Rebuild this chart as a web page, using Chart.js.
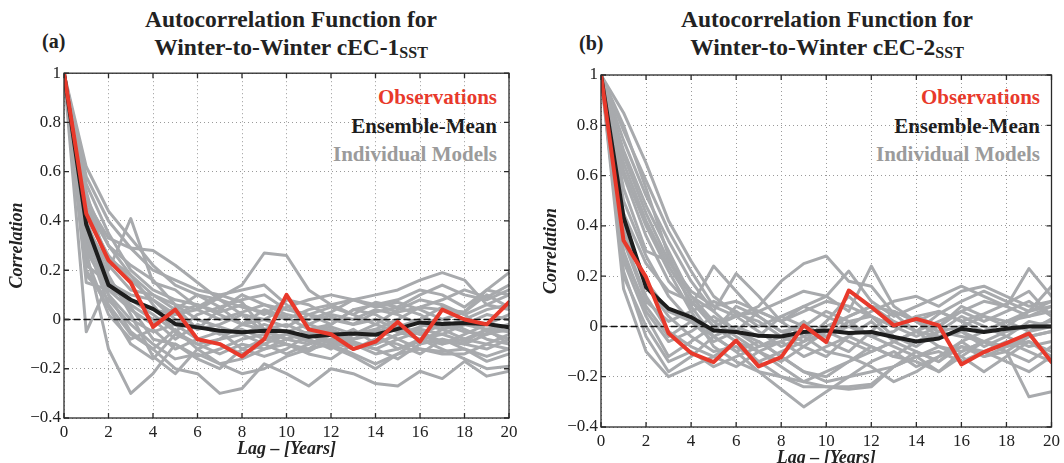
<!DOCTYPE html>
<html>
<head>
<meta charset="utf-8">
<script src="https://cdn.jsdelivr.net/npm/chart.js@4.4.1/dist/chart.umd.min.js"></script>
<style>
html, body { margin: 0; padding: 0; background: #fff; }
body { width: 1064px; height: 463px; overflow: hidden; position: relative; font-family: "Liberation Serif", "Times New Roman", serif; color: #222; }
canvas { position: absolute; }
.title { position: absolute; top: 5px; width: 420px; font-weight: bold; font-size: 23.5px; line-height: 28px; text-align: center; }
.title sub { font-size: 16px; vertical-align: baseline; position: relative; top: 3px; }
.tag { position: absolute; font-weight: bold; font-size: 20px; line-height: 24px; }
.legend { position: absolute; top: 83px; width: 260px; text-align: right; font-weight: bold; font-size: 21px; line-height: 28.5px; }
</style>
</head>
<body>

<div class="tag" style="left:42px; top:29px;">(a)</div>
<div class="title" style="left:81px;">Autocorrelation Function for<br>Winter-to-Winter cEC-1<sub>SST</sub></div>
<div class="legend" style="left:237px;">
  <div style="color:#e8392b">Observations</div>
  <div style="color:#1d1d1d">Ensemble-Mean</div>
  <div style="color:#9b9b9b">Individual Models</div>
</div>

<div class="tag" style="left:579px; top:31px;">(b)</div>
<div class="title" style="left:617px;">Autocorrelation Function for<br>Winter-to-Winter cEC-2<sub>SST</sub></div>
<div class="legend" style="left:780px;">
  <div style="color:#e8392b">Observations</div>
  <div style="color:#1d1d1d">Ensemble-Mean</div>
  <div style="color:#9b9b9b">Individual Models</div>
</div>

<canvas id="chartA" width="530" height="403" style="left:0px; top:60px;"></canvas>
<canvas id="chartB" width="530" height="412" style="left:534px; top:60px;"></canvas>

<script>
// lag in years
const lags = [0,1,2,3,4,5,6,7,8,9,10,11,12,13,14,15,16,17,18,19,20];
const yTicks = [-0.4, -0.2, 0, 0.2, 0.4, 0.6, 0.8, 1];

// ---- panel (a) cEC-1 ----
const obsA  = [1, 0.43, 0.24, 0.15, -0.03, 0.04, -0.08, -0.10, -0.15, -0.08, 0.10, -0.04, -0.06, -0.12, -0.09, -0.01, -0.09, 0.04, 0.00, -0.02, 0.07];
const meanA = [1, 0.385, 0.14, 0.08, 0.043, -0.018, -0.032, -0.046, -0.052, -0.046, -0.048, -0.07, -0.062, -0.057, -0.062, -0.038, -0.012, -0.018, -0.014, -0.018, -0.032];
const modelsA = [
  [1, 0.62, 0.44, 0.33, 0.22, 0.14, 0.10, 0.05, 0.08, 0.10, 0.04, 0.02, 0.00, -0.02, 0.03, 0.05, 0.02, -0.03, 0.00, 0.04, 0.06],
  [1, 0.58, 0.40, 0.29, 0.20, 0.16, 0.12, 0.10, 0.12, 0.14, 0.06, -0.02, -0.05, -0.08, -0.04, 0.00, 0.05, 0.04, 0.03, 0.12, 0.10],
  [1, 0.52, 0.20, 0.41, 0.15, 0.12, 0.05, 0.10, 0.07, -0.04, -0.08, -0.10, -0.06, -0.09, -0.12, -0.08, -0.05, -0.09, -0.10, -0.06, -0.02],
  [1, 0.48, 0.33, 0.29, 0.28, 0.22, 0.15, 0.08, 0.05, 0.03, 0.00, 0.04, 0.06, 0.08, 0.10, 0.12, 0.16, 0.19, 0.16, 0.06, 0.04],
  [1, 0.45, 0.25, 0.18, 0.10, 0.06, 0.04, 0.09, 0.14, 0.27, 0.26, 0.12, 0.06, 0.02, 0.07, 0.05, 0.10, 0.14, 0.10, 0.08, 0.12],
  [1, -0.05, 0.15, 0.05, -0.08, -0.10, -0.15, -0.12, -0.08, -0.06, -0.10, -0.13, -0.08, -0.04, -0.10, -0.06, -0.03, 0.00, -0.04, -0.08, -0.10],
  [1, 0.28, -0.12, -0.30, -0.22, -0.10, -0.16, -0.20, -0.12, -0.08, -0.06, -0.09, -0.11, -0.15, -0.20, -0.14, -0.08, -0.12, -0.16, -0.20, -0.19],
  [1, 0.35, 0.10, -0.05, -0.12, -0.20, -0.22, -0.30, -0.28, -0.18, -0.22, -0.27, -0.20, -0.22, -0.26, -0.27, -0.21, -0.24, -0.17, -0.23, -0.21],
  [1, 0.40, 0.18, 0.02, -0.15, -0.22, -0.12, -0.18, -0.22, -0.20, -0.15, -0.12, -0.10, -0.14, -0.18, -0.14, -0.12, -0.13, -0.12, -0.17, -0.14],
  [1, 0.55, 0.35, 0.20, 0.12, 0.08, 0.06, 0.02, -0.02, 0.00, 0.05, 0.08, 0.10, 0.08, 0.06, 0.08, 0.12, 0.10, 0.05, 0.12, 0.19],
  [1, 0.30, 0.10, 0.00, -0.05, -0.02, -0.08, -0.05, -0.12, -0.15, -0.12, -0.06, -0.04, -0.08, -0.05, -0.02, -0.06, -0.10, -0.06, -0.02, 0.02],
  [1, 0.20, 0.05, -0.10, -0.16, -0.06, -0.10, -0.14, -0.10, -0.12, -0.08, -0.05, -0.09, -0.12, -0.08, -0.10, -0.14, -0.08, -0.10, -0.12, -0.08],
  [1, 0.42, 0.26, 0.16, 0.08, 0.00, -0.04, 0.04, 0.10, 0.06, 0.02, 0.00, 0.03, 0.08, 0.05, 0.07, 0.04, 0.00, 0.03, 0.10, 0.05],
  [1, 0.33, 0.14, 0.06, 0.00, -0.08, -0.02, -0.06, -0.04, -0.08, -0.10, -0.12, -0.06, -0.10, -0.14, -0.12, -0.09, -0.04, -0.08, -0.10, -0.12],
  [1, 0.15, 0.12, 0.08, 0.02, -0.05, 0.02, 0.05, -0.02, 0.04, 0.01, -0.04, -0.02, 0.04, 0.02, -0.03, 0.00, 0.05, 0.02, -0.05, -0.08],
  [1, 0.38, 0.22, 0.12, 0.10, 0.04, 0.10, 0.08, 0.02, 0.00, -0.03, 0.02, 0.05, 0.02, -0.02, 0.04, 0.08, 0.06, 0.02, 0.06, 0.10],
  [1, 0.25, 0.02, -0.08, -0.04, -0.12, -0.08, -0.10, -0.14, -0.10, -0.06, -0.08, -0.12, -0.06, -0.04, -0.08, -0.12, -0.14, -0.14, -0.10, -0.06],
  [1, 0.46, 0.30, 0.22, 0.16, 0.06, 0.00, -0.03, -0.06, -0.02, -0.05, -0.02, 0.02, 0.00, 0.04, 0.02, -0.02, -0.04, -0.02, -0.04, -0.02],
  [1, 0.18, 0.08, -0.02, -0.10, -0.16, -0.14, -0.18, -0.16, -0.12, -0.10, -0.14, -0.16, -0.10, -0.12, -0.16, -0.10, -0.08, -0.12, -0.15, -0.12],
  [1, 0.36, 0.16, 0.08, 0.04, 0.02, 0.06, 0.03, 0.06, 0.02, 0.08, 0.06, 0.01, -0.02, 0.00, -0.04, -0.06, -0.02, -0.05, -0.06, -0.04],
  [1, 0.28, 0.12, 0.04, -0.02, 0.05, -0.04, -0.02, 0.02, -0.05, -0.08, -0.05, -0.03, -0.06, -0.02, -0.05, -0.08, -0.06, -0.09, -0.04, -0.05],
  [1, 0.50, 0.30, 0.18, 0.06, -0.05, -0.10, -0.08, -0.06, -0.10, -0.14, -0.10, -0.08, -0.12, -0.10, -0.06, -0.04, -0.06, -0.02, 0.02, 0.00],
  [1, 0.22, 0.15, 0.10, 0.08, 0.02, 0.04, 0.00, 0.03, 0.06, 0.04, 0.02, -0.02, 0.04, 0.06, 0.03, 0.05, 0.08, 0.12, 0.09, 0.14],
  [1, 0.32, 0.06, -0.06, -0.12, -0.04, -0.12, -0.08, -0.02, -0.04, -0.02, -0.06, -0.10, -0.08, -0.06, -0.12, -0.08, -0.10, -0.08, -0.04, -0.10]
];

// ---- panel (b) cEC-2 ----
const obsB  = [1, 0.342, 0.196, -0.027, -0.106, -0.142, -0.056, -0.159, -0.122, 0.004, -0.062, 0.143, 0.077, 0.004, 0.03, 0.004, -0.151, -0.102, -0.066, -0.028, -0.142];
const meanB = [1, 0.435, 0.156, 0.071, 0.037, -0.016, -0.022, -0.037, -0.04, -0.022, -0.016, -0.026, -0.022, -0.042, -0.06, -0.048, -0.009, -0.022, -0.009, 0.0, 0.0];
const modelsB = [
  [1, 0.85, 0.65, 0.42, 0.26, 0.12, 0.05, 0.02, -0.04, -0.08, -0.02, 0.04, 0.08, 0.06, 0.02, -0.02, 0.00, 0.04, 0.02, -0.02, 0.03],
  [1, 0.78, 0.58, 0.38, 0.22, 0.08, 0.10, 0.06, 0.02, 0.06, 0.10, 0.08, 0.04, 0.00, -0.04, 0.00, 0.06, 0.10, 0.08, 0.04, 0.06],
  [1, 0.74, 0.52, 0.34, 0.18, 0.06, -0.02, -0.06, -0.12, -0.18, -0.22, -0.20, -0.18, -0.16, -0.12, -0.08, -0.10, -0.06, -0.02, 0.00, 0.02],
  [1, 0.70, 0.48, 0.30, 0.12, 0.02, -0.04, -0.10, -0.16, -0.22, -0.24, -0.24, -0.23, -0.16, -0.12, -0.18, -0.10, -0.06, -0.08, -0.04, -0.02],
  [1, 0.80, 0.55, 0.28, 0.08, -0.04, -0.10, -0.18, -0.25, -0.32, -0.26, -0.20, -0.14, -0.10, -0.16, -0.12, -0.08, -0.10, -0.14, -0.18, -0.12],
  [1, 0.65, 0.42, 0.24, 0.10, 0.00, -0.06, -0.14, -0.20, -0.24, -0.24, -0.25, -0.24, -0.16, -0.10, -0.14, -0.08, -0.12, -0.10, -0.28, -0.26],
  [1, 0.60, 0.36, 0.18, 0.08, 0.24, 0.14, 0.04, -0.02, 0.00, 0.06, 0.02, -0.04, -0.02, 0.04, 0.00, 0.08, 0.04, 0.00, 0.06, 0.10],
  [1, 0.55, 0.30, 0.26, 0.12, 0.06, 0.21, 0.12, 0.02, 0.08, 0.12, 0.22, 0.10, 0.04, 0.08, 0.12, 0.16, 0.12, 0.08, 0.23, 0.12],
  [1, 0.45, 0.25, 0.14, 0.10, 0.02, 0.04, 0.08, 0.18, 0.25, 0.28, 0.18, 0.16, 0.05, -0.02, 0.05, 0.10, 0.14, 0.10, 0.06, 0.16],
  [1, 0.40, 0.18, 0.06, 0.02, -0.06, -0.02, 0.06, 0.10, 0.14, 0.12, 0.06, 0.24, 0.08, 0.02, 0.06, 0.02, 0.05, 0.09, 0.14, 0.04],
  [1, 0.15, -0.10, -0.20, -0.16, -0.12, -0.06, -0.10, -0.14, -0.08, -0.12, -0.04, 0.02, -0.06, -0.10, -0.14, -0.06, -0.12, -0.08, -0.06, -0.10],
  [1, 0.22, -0.04, -0.18, -0.12, -0.04, -0.10, -0.06, -0.12, -0.18, -0.20, -0.14, -0.08, -0.12, -0.14, -0.18, -0.12, -0.06, -0.10, -0.14, -0.08],
  [1, 0.30, 0.06, -0.06, -0.02, 0.04, -0.02, -0.08, -0.04, 0.02, -0.06, -0.10, -0.02, 0.06, 0.02, -0.04, -0.02, -0.08, -0.04, 0.02, 0.00],
  [1, 0.35, 0.12, -0.02, -0.08, -0.12, -0.16, -0.10, -0.06, -0.12, -0.08, -0.04, -0.08, -0.12, -0.06, -0.02, 0.04, 0.00, -0.04, -0.08, -0.06],
  [1, 0.26, 0.04, -0.12, -0.06, 0.00, 0.04, -0.02, -0.08, -0.04, 0.00, 0.04, 0.08, 0.02, -0.02, 0.02, 0.06, 0.02, 0.06, 0.10, 0.04],
  [1, 0.50, 0.28, 0.12, 0.02, -0.04, 0.00, -0.04, 0.04, 0.08, 0.04, 0.00, 0.06, 0.10, 0.12, 0.08, 0.14, 0.16, 0.12, 0.08, 0.10],
  [1, 0.38, 0.16, 0.04, -0.04, -0.10, -0.08, -0.14, -0.10, -0.06, -0.02, -0.06, -0.10, -0.06, -0.02, -0.08, -0.12, -0.18, -0.12, -0.06, -0.12],
  [1, 0.20, 0.00, -0.14, -0.10, -0.16, -0.12, -0.08, -0.06, -0.02, -0.04, 0.00, -0.04, -0.08, -0.12, -0.10, -0.14, -0.10, -0.06, -0.10, -0.14],
  [1, 0.62, 0.40, 0.22, 0.06, -0.08, -0.14, -0.18, -0.20, -0.22, -0.18, -0.14, -0.10, -0.06, -0.02, -0.04, -0.02, -0.06, -0.08, -0.02, 0.00],
  [1, 0.34, 0.10, 0.02, 0.06, 0.10, 0.06, 0.00, 0.04, 0.00, -0.04, 0.02, 0.04, 0.00, 0.04, 0.06, 0.02, -0.02, 0.02, 0.06, 0.08],
  [1, 0.28, 0.08, -0.04, 0.02, -0.02, 0.08, 0.04, -0.02, -0.06, 0.02, 0.12, 0.04, -0.04, -0.08, -0.02, -0.04, -0.06, -0.10, -0.04, -0.02],
  [1, 0.68, 0.45, 0.26, 0.14, 0.08, 0.04, 0.06, 0.02, -0.04, -0.10, -0.12, -0.16, -0.22, -0.18, -0.12, -0.06, -0.02, 0.02, 0.04, 0.08]
];

const RED = "#e8392b";
const BLACK = "#1d1d1d";
const GREY = "#a8aaad";
const SERIF = "'Liberation Serif', 'Times New Roman', serif";

const toPoints = vals => vals.map((v, i) => ({ x: lags[i], y: v }));
const fmtTick = v => {
  const s = String(Number(v.toFixed(1)));
  return s.replace("-", "\u2212");
};

// frame + inward tick marks like the matlab box
const boxPlugin = {
  id: "box",
  afterDraw(chart) {
    const { ctx, chartArea: a, scales } = chart;
    ctx.save();
    ctx.strokeStyle = "#2a2a2a";
    ctx.lineWidth = 1.3;
    ctx.beginPath();
    scales.x.ticks.forEach(t => {
      const px = scales.x.getPixelForValue(t.value);
      ctx.moveTo(px, a.bottom); ctx.lineTo(px, a.bottom - 5);
      ctx.moveTo(px, a.top); ctx.lineTo(px, a.top + 5);
    });
    scales.y.ticks.forEach(t => {
      const py = scales.y.getPixelForValue(t.value);
      ctx.moveTo(a.left, py); ctx.lineTo(a.left + 5, py);
      ctx.moveTo(a.right, py); ctx.lineTo(a.right - 5, py);
    });
    ctx.stroke();
    ctx.strokeRect(a.left, a.top, a.right - a.left, a.bottom - a.top);
    ctx.restore();
  }
};

function makePanel(canvasId, obs, mean, models, geo) {
  const datasets = [];
  models.forEach(m => {
    datasets.push({ data: toPoints(m), borderColor: GREY, borderWidth: 3, order: 3 });
  });
  datasets.push({ data: toPoints(lags.map(() => 0)), borderColor: "#111", borderWidth: 1.4, borderDash: [6, 4], order: 2 });
  datasets.push({ data: toPoints(mean), borderColor: BLACK, borderWidth: 4, order: 1 });
  datasets.push({ data: toPoints(obs), borderColor: RED, borderWidth: 4, order: 0 });

  return new Chart(document.getElementById(canvasId), {
    type: "line",
    data: { datasets },
    options: {
      responsive: false,
      animation: false,
      devicePixelRatio: 1,
      elements: {
        point: { radius: 0 },
        line: { tension: 0, borderJoinStyle: "round", borderCapStyle: "round", fill: false }
      },
      layout: { padding: { top: geo.top, right: geo.right, left: 0, bottom: 0 } },
      plugins: { legend: { display: false }, tooltip: { enabled: false } },
      scales: {
        x: {
          type: "linear",
          min: 0, max: 20,
          afterFit: s => { s.height = geo.xh; },
          ticks: { stepSize: 2, padding: 4, color: "#222", font: { family: SERIF, size: 17 } },
          grid: { color: "#9a9a9a", lineWidth: 1, drawTicks: false },
          border: { display: false, dash: [1, 3] },
          title: {
            display: true, text: "Lag \u2013 [Years]", color: "#222",
            font: { family: SERIF, size: 18, style: "italic", weight: "bold" },
            padding: { top: 0, bottom: 3 }
          }
        },
        y: {
          min: -0.4, max: 1,
          afterFit: s => { s.width = geo.yw; },
          afterBuildTicks: s => { s.ticks = yTicks.map(v => ({ value: v })); },
          ticks: { padding: 3, color: "#222", font: { family: SERIF, size: 17 }, callback: v => fmtTick(v) },
          grid: { color: "#9a9a9a", lineWidth: 1, drawTicks: false },
          border: { display: false, dash: [1, 3] },
          title: {
            display: true, text: "Correlation", color: "#222",
            font: { family: SERIF, size: 18, style: "italic", weight: "bold" },
            padding: { top: 7, bottom: 0 }
          }
        }
      }
    },
    plugins: [boxPlugin]
  });
}

makePanel("chartA", obsA, meanA, modelsA, { top: 10, right: 21, xh: 45, yw: 64 });
makePanel("chartB", obsB, meanB, modelsB, { top: 15, right: 9, xh: 45, yw: 67 });
</script>
</body>
</html>
